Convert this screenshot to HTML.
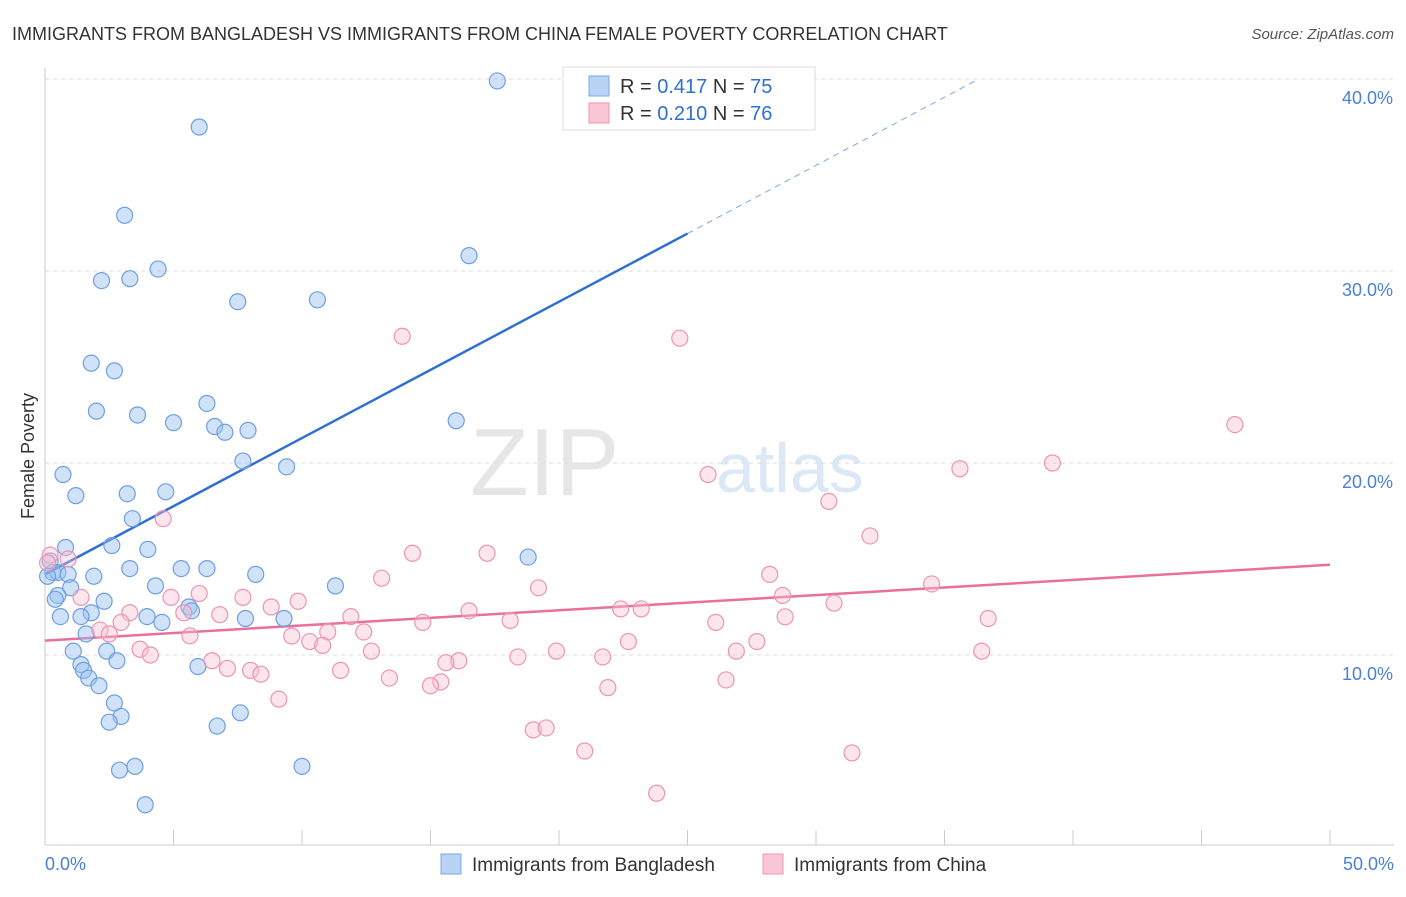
<!DOCTYPE html>
<html><head><meta charset="utf-8"><style>
body{margin:0;background:#fff;font-family:"Liberation Sans",sans-serif;}
svg text{font-family:"Liberation Sans",sans-serif;}
</style></head><body>
<svg id="chart" width="1406" height="892" xmlns="http://www.w3.org/2000/svg">
<text x="12" y="40" font-size="18" fill="#333">IMMIGRANTS FROM BANGLADESH VS IMMIGRANTS FROM CHINA FEMALE POVERTY CORRELATION CHART</text>
<text x="1394" y="39" font-size="15" fill="#555" text-anchor="end" font-style="italic">Source: ZipAtlas.com</text>
<text x="470" y="495" font-size="96" fill="#e6e6e6" font-family="Liberation Serif">ZIP</text>
<text x="716" y="492" font-size="70" fill="#dce8f5">atlas</text>
<g id="grid"></g><g id="axes"></g><g id="lines"></g><g id="pts"></g>
<text x="34" y="456" font-size="18" fill="#333" text-anchor="middle" transform="rotate(-90 34 456)">Female Poverty</text>
<text x="45" y="870" font-size="18" fill="#4a7fd4">0.0%</text>
<text x="1394" y="870" font-size="18" fill="#4a7fd4" text-anchor="end">50.0%</text>
<g>
<rect x="563" y="67" width="252" height="63" fill="#fff" stroke="#ddd"/>
<rect x="589" y="76" width="20" height="20" fill="#b9d3f5" stroke="#7aa7e6"/>
<rect x="589" y="103" width="20" height="20" fill="#f8c6d4" stroke="#ec95b0"/>
<text x="620" y="93" font-size="20" fill="#333">R = <tspan fill="#2f6fd0">0.417</tspan>   N = <tspan fill="#2f6fd0">75</tspan></text>
<text x="620" y="120" font-size="20" fill="#333">R = <tspan fill="#2f6fd0">0.210</tspan>   N = <tspan fill="#2f6fd0">76</tspan></text>
</g>
<g>
<rect x="441" y="854" width="20" height="20" fill="#b9d3f5" stroke="#7aa7e6"/>
<text x="472" y="871" font-size="19" fill="#333">Immigrants from Bangladesh</text>
<rect x="763" y="854" width="20" height="20" fill="#f8c6d4" stroke="#ec95b0"/>
<text x="794" y="871" font-size="19" fill="#333">Immigrants from China</text>
</g>
</svg>
<script>
const yTicks=[10,20,30,40];
const xTicks=[0,5,10,15,20,25,30,35,40,45,50];
const blueX=[17.6,6.0,3.1,16.5,4.4,2.2,3.3,7.5,10.6,1.8,2.7,2.0,3.6,5.0,6.3,6.6,7.0,7.9,16.0,7.7,9.4,0.7,1.2,3.2,4.7,3.4,0.8,2.6,4.0,18.8,0.3,0.5,0.9,1.9,3.3,5.3,6.3,8.2,11.3,4.3,1.0,0.5,0.4,2.3,1.8,0.6,1.4,3.97,4.55,5.6,5.7,7.8,9.3,1.6,1.1,2.4,2.8,1.4,1.5,5.95,1.7,2.1,2.7,7.6,2.96,2.5,6.7,3.5,2.9,10.0,3.9,0.2,0.1];
const blueY=[39.9,37.5,32.9,30.8,30.1,29.5,29.6,28.4,28.5,25.2,24.8,22.7,22.5,22.1,23.1,21.9,21.6,21.7,22.2,20.1,19.8,19.4,18.3,18.4,18.5,17.1,15.6,15.7,15.5,15.1,14.3,14.3,14.2,14.1,14.5,14.5,14.5,14.2,13.6,13.6,13.5,13.1,12.9,12.8,12.2,12.0,12.0,12.0,11.7,12.5,12.3,11.9,11.9,11.1,10.2,10.2,9.7,9.5,9.2,9.4,8.8,8.4,7.5,6.99,6.8,6.5,6.3,4.2,4.0,4.2,2.2,14.9,14.1];
const pinkX=[13.9,24.7,46.3,39.2,35.6,25.8,30.5,4.6,32.1,14.3,17.2,0.9,0.2,13.1,28.2,34.5,19.2,7.7,6.0,1.4,4.9,28.7,30.7,9.85,16.5,22.4,23.2,8.8,3.3,6.8,5.4,11.9,18.1,14.7,26.1,28.8,36.7,2.96,9.6,11.0,12.4,2.14,2.5,5.64,10.3,10.8,22.7,27.7,3.7,4.1,12.7,19.9,6.5,16.1,15.6,18.4,21.7,26.9,36.45,7.1,8.0,8.4,11.5,13.4,15.4,15.0,26.5,21.9,9.1,19.0,19.5,21.0,31.4,23.8,0.1];
const pinkY=[26.6,26.5,22.0,20.0,19.7,19.4,18.0,17.1,16.2,15.3,15.3,15.0,15.2,14.0,14.2,13.7,13.5,13.0,13.2,13.0,13.0,13.1,12.7,12.8,12.3,12.4,12.4,12.5,12.2,12.1,12.2,12.0,11.8,11.7,11.7,11.99,11.9,11.7,10.99,11.2,11.2,11.3,11.1,11.0,10.7,10.5,10.7,10.7,10.3,10.0,10.2,10.2,9.7,9.7,9.6,9.9,9.9,10.2,10.2,9.3,9.2,9.0,9.2,8.8,8.6,8.4,8.7,8.3,7.7,6.1,6.2,5.0,4.9,2.8,14.8];
const blueLine=[14.2,0.71], pinkLine=[10.75,0.079];
const NS='http://www.w3.org/2000/svg';
const X=v=>45+v*25.7, Y=v=>847-v*19.2;
function mk(tag,attrs,parent){const e=document.createElementNS(NS,tag);for(const k in attrs)e.setAttribute(k,attrs[k]);document.getElementById(parent).appendChild(e);return e;}
yTicks.forEach(t=>{
 const l=mk('line',{x1:45,x2:1394,y1:Y(t),y2:Y(t),stroke:'#ddd','stroke-dasharray':'4,4'},'grid');
 
 
 const tx=mk('text',{x:1393,y:Y(t)+25,'font-size':18,fill:'#4a7fd4','text-anchor':'end'},'grid');
 tx.textContent=t.toFixed(1)+'%';
 
 
});
const ax=mk('line',{x1:45,x2:1394,y1:845,y2:845,stroke:'#ccc'},'axes');


const ay=mk('line',{x1:45,x2:45,y1:68,y2:845,stroke:'#ccc'},'axes');


xTicks.forEach(t=>{
 const l=mk('line',{x1:X(t),x2:X(t),y1:830,y2:845,stroke:'#ccc'},'axes');
 
 
});
const bEndSolid=25, bEndDash=(40-blueLine[0])/blueLine[1];
const bl=mk('line',{x1:X(0),y1:Y(blueLine[0]),x2:X(bEndSolid),y2:Y(blueLine[0]+blueLine[1]*bEndSolid),stroke:'#2f6fd0','stroke-width':2.5},'lines');


const bd=mk('line',{x1:X(bEndSolid),y1:Y(blueLine[0]+blueLine[1]*bEndSolid),x2:X(bEndDash),y2:Y(40),stroke:'#7aa7e6','stroke-width':1,'stroke-dasharray':'6,5'},'lines');


const pl=mk('line',{x1:X(0),y1:Y(pinkLine[0]),x2:X(50),y2:Y(pinkLine[0]+pinkLine[1]*50),stroke:'#e8709a','stroke-width':2.5},'lines');


blueX.forEach((v,i)=>{
 const c=mk('circle',{cx:X(v),cy:Y(blueY[i]),r:8,fill:'rgba(150,190,240,0.45)',stroke:'#6f9fe0','stroke-width':1.2},'pts');
 
 
});
pinkX.forEach((v,i)=>{
 const c=mk('circle',{cx:X(v),cy:Y(pinkY[i]),r:8,fill:'rgba(248,190,210,0.4)',stroke:'#ec95b0','stroke-width':1.2},'pts');
 
 
});
</script>
</body></html>
